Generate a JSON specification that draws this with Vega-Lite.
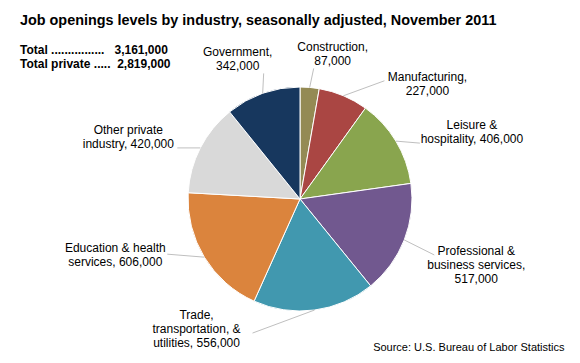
{
  "$schema": "https://vega.github.io/schema/vega-lite/v6.json",
  "width": 560,
  "height": 328,
  "autosize": {"type": "none"},
  "padding": {"left": 20, "top": 35, "right": 0, "bottom": 0},
  "background": "white",
  "title": {
    "text": "Job openings levels by industry, seasonally adjusted, November 2011",
    "subtitle": ["Total\u00a0................\u00a0\u00a0\u00a03,161,000", "Total private\u00a0.....\u00a0\u00a02,819,000"],
    "anchor": "start",
    "frame": "group",
    "offset": -36,
    "dx": 0,
    "fontSize": 14.4,
    "fontWeight": "bold",
    "color": "black",
    "subtitlePadding": 17,
    "subtitleFontSize": 12,
    "subtitleFontWeight": "bold",
    "subtitleLineHeight": 14,
    "subtitleColor": "black"
  },
  "data": {
    "values": [
      {"industry": "Construction", "value": 87000, "label": "Construction,\n87,000"},
      {"industry": "Manufacturing", "value": 227000, "label": "Manufacturing,\n227,000"},
      {"industry": "Leisure & hospitality", "value": 406000, "label": "Leisure &\nhospitality, 406,000"},
      {"industry": "Professional & business services", "value": 517000, "label": "Professional &\nbusiness services,\n517,000"},
      {"industry": "Trade, transportation, & utilities", "value": 556000, "label": "Trade,\ntransportation, &\nutilities, 556,000"},
      {"industry": "Education & health services", "value": 606000, "label": "Education & health\nservices, 606,000"},
      {"industry": "Other private industry", "value": 420000, "label": "Other private\nindustry, 420,000"},
      {"industry": "Government", "value": 342000, "label": "Government,\n342,000"}
    ]
  },
  "transform": [
    {"joinaggregate": [{"op": "sum", "field": "value", "as": "total"}]},
    {"window": [{"op": "sum", "field": "value", "as": "cum"}], "frame": [null, 0]},
    {"calculate": "datum.cum - datum.value", "as": "start"},
    {"calculate": "2 * PI * (datum.cum - datum.value / 2) / datum.total", "as": "mid"},
    {"calculate": "112 * sin(datum.mid)", "as": "sx"},
    {"calculate": "112 * cos(datum.mid)", "as": "sy"}
  ],
  "layer": [
    {
      "mark": {"type": "arc", "radius": 112, "stroke": "white", "strokeWidth": 1},
      "encoding": {
        "theta": {"field": "cum", "type": "quantitative", "stack": null, "scale": {"zero": true, "nice": false}},
        "theta2": {"field": "start"},
        "color": {
          "field": "industry",
          "type": "nominal",
          "legend": null,
          "scale": {
            "domain": ["Construction", "Manufacturing", "Leisure & hospitality", "Professional & business services", "Trade, transportation, & utilities", "Education & health services", "Other private industry", "Government"],
            "range": ["#948A54", "#AA4643", "#89A54E", "#71588F", "#4198AF", "#DB843D", "#D9D9D9", "#17375E"]
          }
        }
      }
    },
    {
      "transform": [{"filter": "datum.industry == 'Construction'"}],
      "encoding": {
        "x": {"field": "sx", "type": "quantitative", "scale": {"domain": [-280, 280], "nice": false, "zero": false}, "title": "Source: U.S. Bureau of Labor Statistics"},
        "y": {"field": "sy", "type": "quantitative", "scale": {"domain": [-164, 164], "nice": false, "zero": false}, "axis": null}
      },
      "layer": [
        {"mark": {"type": "rule", "color": "#BFBFBF", "strokeWidth": 1, "x2Offset": 4, "y2Offset": -19}, "encoding": {"x2": {"field": "sx"}, "y2": {"field": "sy"}}},
        {"mark": {"type": "text", "lineBreak": "\n", "fontSize": 12, "lineHeight": 14, "align": "center", "baseline": "middle", "dx": 23, "dy": -40, "color": "black"}, "encoding": {"text": {"field": "label"}}}
      ]
    },
    {
      "transform": [{"filter": "datum.industry == 'Manufacturing'"}],
      "encoding": {
        "x": {"field": "sx", "type": "quantitative", "scale": {"domain": [-280, 280], "nice": false, "zero": false}, "title": "Source: U.S. Bureau of Labor Statistics"},
        "y": {"field": "sy", "type": "quantitative", "scale": {"domain": [-164, 164], "nice": false, "zero": false}, "axis": null}
      },
      "layer": [
        {"mark": {"type": "rule", "color": "#BFBFBF", "strokeWidth": 1, "x2Offset": 41, "y2Offset": -15}, "encoding": {"x2": {"field": "sx"}, "y2": {"field": "sy"}}},
        {"mark": {"type": "text", "lineBreak": "\n", "fontSize": 12, "lineHeight": 14, "align": "center", "baseline": "middle", "dx": 84, "dy": -19, "color": "black"}, "encoding": {"text": {"field": "label"}}}
      ]
    },
    {
      "transform": [{"filter": "datum.industry == 'Leisure & hospitality'"}],
      "encoding": {
        "x": {"field": "sx", "type": "quantitative", "scale": {"domain": [-280, 280], "nice": false, "zero": false}, "title": "Source: U.S. Bureau of Labor Statistics"},
        "y": {"field": "sy", "type": "quantitative", "scale": {"domain": [-164, 164], "nice": false, "zero": false}, "axis": null}
      },
      "layer": [
        {"mark": {"type": "rule", "color": "#BFBFBF", "strokeWidth": 1, "x2Offset": 24, "y2Offset": 2}, "encoding": {"x2": {"field": "sx"}, "y2": {"field": "sy"}}},
        {"mark": {"type": "text", "lineBreak": "\n", "fontSize": 12, "lineHeight": 14, "align": "center", "baseline": "middle", "dx": 76, "dy": -16, "color": "black"}, "encoding": {"text": {"field": "label"}}}
      ]
    },
    {
      "transform": [{"filter": "datum.industry == 'Professional & business services'"}],
      "encoding": {
        "x": {"field": "sx", "type": "quantitative", "scale": {"domain": [-280, 280], "nice": false, "zero": false}, "title": "Source: U.S. Bureau of Labor Statistics"},
        "y": {"field": "sy", "type": "quantitative", "scale": {"domain": [-164, 164], "nice": false, "zero": false}, "axis": null}
      },
      "layer": [
        {"mark": {"type": "rule", "color": "#BFBFBF", "strokeWidth": 1, "x2Offset": 30, "y2Offset": 15}, "encoding": {"x2": {"field": "sx"}, "y2": {"field": "sy"}}},
        {"mark": {"type": "text", "lineBreak": "\n", "fontSize": 12, "lineHeight": 14, "align": "center", "baseline": "middle", "dx": 72, "dy": 11, "color": "black"}, "encoding": {"text": {"field": "label"}}}
      ]
    },
    {
      "transform": [{"filter": "datum.industry == 'Trade, transportation, & utilities'"}],
      "encoding": {
        "x": {"field": "sx", "type": "quantitative", "scale": {"domain": [-280, 280], "nice": false, "zero": false}, "title": "Source: U.S. Bureau of Labor Statistics"},
        "y": {"field": "sy", "type": "quantitative", "scale": {"domain": [-164, 164], "nice": false, "zero": false}, "axis": null}
      },
      "layer": [
        {"mark": {"type": "rule", "color": "#BFBFBF", "strokeWidth": 1, "x2Offset": -62, "y2Offset": 23}, "encoding": {"x2": {"field": "sx"}, "y2": {"field": "sy"}}},
        {"mark": {"type": "text", "lineBreak": "\n", "fontSize": 12, "lineHeight": 14, "align": "center", "baseline": "middle", "dx": -118, "dy": 5, "color": "black"}, "encoding": {"text": {"field": "label"}}}
      ]
    },
    {
      "transform": [{"filter": "datum.industry == 'Education & health services'"}],
      "encoding": {
        "x": {"field": "sx", "type": "quantitative", "scale": {"domain": [-280, 280], "nice": false, "zero": false}, "title": "Source: U.S. Bureau of Labor Statistics"},
        "y": {"field": "sy", "type": "quantitative", "scale": {"domain": [-164, 164], "nice": false, "zero": false}, "axis": null}
      },
      "layer": [
        {"mark": {"type": "rule", "color": "#BFBFBF", "strokeWidth": 1, "x2Offset": -37, "y2Offset": -3}, "encoding": {"x2": {"field": "sx"}, "y2": {"field": "sy"}}},
        {"mark": {"type": "text", "lineBreak": "\n", "fontSize": 12, "lineHeight": 14, "align": "center", "baseline": "middle", "dx": -89, "dy": -9, "color": "black"}, "encoding": {"text": {"field": "label"}}}
      ]
    },
    {
      "transform": [{"filter": "datum.industry == 'Other private industry'"}],
      "encoding": {
        "x": {"field": "sx", "type": "quantitative", "scale": {"domain": [-280, 280], "nice": false, "zero": false}, "title": "Source: U.S. Bureau of Labor Statistics"},
        "y": {"field": "sy", "type": "quantitative", "scale": {"domain": [-164, 164], "nice": false, "zero": false}, "axis": null}
      },
      "layer": [
        {"mark": {"type": "rule", "color": "#BFBFBF", "strokeWidth": 1, "x2Offset": -23, "y2Offset": 0}, "encoding": {"x2": {"field": "sx"}, "y2": {"field": "sy"}}},
        {"mark": {"type": "text", "lineBreak": "\n", "fontSize": 12, "lineHeight": 14, "align": "center", "baseline": "middle", "dx": -72, "dy": -18, "color": "black"}, "encoding": {"text": {"field": "label"}}}
      ]
    },
    {
      "transform": [{"filter": "datum.industry == 'Government'"}],
      "encoding": {
        "x": {"field": "sx", "type": "quantitative", "scale": {"domain": [-280, 280], "nice": false, "zero": false}, "title": "Source: U.S. Bureau of Labor Statistics"},
        "y": {"field": "sy", "type": "quantitative", "scale": {"domain": [-164, 164], "nice": false, "zero": false}, "axis": null}
      },
      "layer": [
        {"mark": {"type": "rule", "color": "#BFBFBF", "strokeWidth": 1, "x2Offset": 1, "y2Offset": -20}, "encoding": {"x2": {"field": "sx"}, "y2": {"field": "sy"}}},
        {"mark": {"type": "text", "lineBreak": "\n", "fontSize": 12, "lineHeight": 14, "align": "center", "baseline": "middle", "dx": -25, "dy": -41, "color": "black"}, "encoding": {"text": {"field": "label"}}}
      ]
    }
  ],
  "config": {
    "font": "Liberation Sans",
    "view": {"stroke": null},
    "axisX": {
      "domain": false,
      "ticks": false,
      "labels": false,
      "grid": false,
      "titleFont": "Liberation Sans",
      "titleFontSize": 11,
      "titleFontWeight": "normal",
      "titleColor": "black",
      "titleAlign": "right",
      "titleBaseline": "middle",
      "titleX": 544,
      "titleY": -16
    }
  }
}
